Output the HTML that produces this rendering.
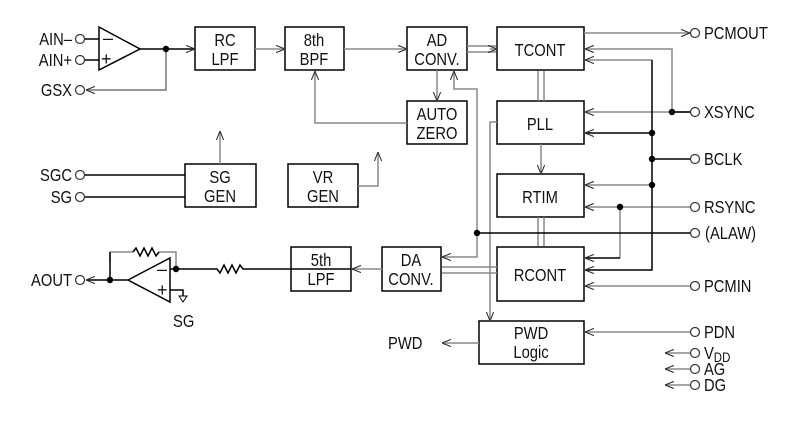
<!DOCTYPE html>
<html><head><meta charset="utf-8"><style>
html,body{margin:0;padding:0;background:#fff;width:807px;height:423px;overflow:hidden}
svg text{font-family:"Liberation Sans",sans-serif;font-size:18px;fill:#111}
</style></head><body>
<svg width="807" height="423" viewBox="0 0 807 423" xmlns="http://www.w3.org/2000/svg">
<defs>
<marker id="a" viewBox="0 0 10 10" refX="10" refY="5" markerWidth="9" markerHeight="9" orient="auto" markerUnits="userSpaceOnUse"><path d="M0,1 L10,5 L0,9" fill="none" stroke="#333" stroke-width="1.2"/></marker>
</defs>
<g fill="none" stroke="#000" stroke-width="1.5">
<rect x="195" y="27" width="60" height="43"/>
<rect x="285" y="27" width="59" height="43"/>
<rect x="407" y="27" width="60" height="43"/>
<rect x="497" y="27" width="87" height="43"/>
<rect x="407" y="101" width="60" height="43"/>
<rect x="497" y="101" width="87" height="43"/>
<rect x="497" y="174" width="87" height="43"/>
<rect x="497" y="247" width="87" height="54"/>
<rect x="479" y="321" width="105" height="43"/>
<rect x="382" y="247" width="59" height="44"/>
<rect x="291" y="247" width="60" height="44"/>
<rect x="185" y="164" width="71" height="43"/>
<rect x="288" y="164" width="70" height="43"/>
<path d="M99,27 L140,49 L99,70 Z"/>
<path d="M140,49 H195" marker-end="url(#a)"/>
<path d="M85,39 H99 M85,60 H99"/>
<path d="M166,49 V90 H86" marker-end="url(#a)" stroke="#777"/>
</g>
<g fill="none" stroke="#888" stroke-width="1.5">
<path d="M255,49 H285" marker-end="url(#a)"/>
<path d="M344,49 H407" marker-end="url(#a)"/>
<path d="M407,123 H315 V71" marker-end="url(#a)"/>
<path d="M437,70 V101" marker-end="url(#a)"/>
<path d="M477,233 V89 H454 V71" marker-end="url(#a)"/>
<path d="M477,233 V257 H442" marker-end="url(#a)"/>
<path d="M497,122 H490 V321" marker-end="url(#a)"/>
<path d="M541,144 V174" marker-end="url(#a)"/>
<path d="M220,164 V131" marker-end="url(#a)"/>
<path d="M358,186 H378 V152" marker-end="url(#a)"/>
<path d="M584,33 H690" marker-end="url(#a)"/>
<path d="M672,112 V49 H585" marker-end="url(#a)"/>
<path d="M691,112 H585" marker-end="url(#a)"/>
<path d="M652,60 H585" marker-end="url(#a)"/>
<path d="M652,185 H585" marker-end="url(#a)"/>
<path d="M691,207 H585" marker-end="url(#a)"/>
<path d="M620,207 V258"/>
<path d="M691,286 H585" marker-end="url(#a)"/>
<path d="M691,332 H585" marker-end="url(#a)"/>
<path d="M479,343 H442" marker-end="url(#a)"/>
<path d="M690,353 H665" marker-end="url(#a)"/>
<path d="M690,369 H665" marker-end="url(#a)"/>
<path d="M690,385 H665" marker-end="url(#a)"/>
<path d="M467,46 H496 M467,52 H496"/>
<path d="M490,49 L497,49" marker-end="url(#a)"/>
<path d="M538,101 V71 M544,101 V71"/>
<path d="M538,217 V246 M544,217 V246"/>
<path d="M497,267 H442 M497,273 H442"/>
<path d="M382,269 H352" marker-end="url(#a)"/>
<path d="M110,252 V262 M110,252 H133 M159,252 H176 V269"/>
</g>
<g fill="none" stroke="#000" stroke-width="1.5">
<path d="M652,60 V270 H585" marker-end="url(#a)"/>
<path d="M652,133 H585" marker-end="url(#a)"/>
<path d="M652,159 H690"/>
<path d="M620,258 H585" marker-end="url(#a)"/>
<path d="M477,233 H690"/>
<path d="M672,112 H690"/>
<path d="M185,175 H85 M185,197 H85"/>
<path d="M128,280 L170,258 L170,302 Z"/>
<path d="M351,269 H243 L240,265 L236,273 L232,265 L228,273 L224,265 L220,273 L217,269 H170"/>
<path d="M128,280 H110 V252"/>
<path d="M110,280 H86" marker-end="url(#a)"/>
<path d="M170,290 H183 V296"/>
<path d="M179,296 L183,302 L187,296 Z" stroke-width="1"/>
</g>
<path d="M133,252 L136,248 L140,256 L144,248 L148,256 L152,248 L156,256 L159,252" fill="none" stroke="#000" stroke-width="1.5"/>
<g fill="#000">
<circle cx="166" cy="49" r="3.2"/><circle cx="672" cy="112" r="3.2"/><circle cx="652" cy="133" r="3.2"/>
<circle cx="652" cy="159" r="3.2"/><circle cx="652" cy="185" r="3.2"/><circle cx="620" cy="207" r="3.2"/>
<circle cx="477" cy="233" r="3.2"/><circle cx="176" cy="269" r="3.2"/><circle cx="110" cy="280" r="3.2"/>
</g>
<g fill="#fff" stroke="#333" stroke-width="1.2">
<circle cx="80" cy="39" r="4.5"/><circle cx="80" cy="60" r="4.5"/><circle cx="80" cy="90" r="4.5"/>
<circle cx="80" cy="175" r="4.5"/><circle cx="80" cy="197" r="4.5"/><circle cx="80" cy="280" r="4.5"/>
<circle cx="695" cy="33" r="4.5"/><circle cx="695" cy="112" r="4.5"/><circle cx="695" cy="159" r="4.5"/>
<circle cx="695" cy="207" r="4.5"/><circle cx="695" cy="233" r="4.5"/><circle cx="695" cy="286" r="4.5"/>
<circle cx="695" cy="332" r="4.5"/><circle cx="695" cy="353" r="4.5"/><circle cx="695" cy="369" r="4.5"/><circle cx="695" cy="385" r="4.5"/>
</g>
<g transform="scale(0.82,1)">
<g text-anchor="middle">
<text x="274.4" y="46">RC</text><text x="274.4" y="65">LPF</text>
<text x="382.9" y="46">8th</text><text x="382.9" y="65">BPF</text>
<text x="532.9" y="46">AD</text><text x="532.9" y="65">CONV.</text>
<text x="658.5" y="56">TCONT</text>
<text x="532.9" y="120">AUTO</text><text x="532.9" y="139">ZERO</text>
<text x="658.5" y="130">PLL</text>
<text x="658.5" y="203">RTIM</text>
<text x="658.5" y="281">RCONT</text>
<text x="647.6" y="339">PWD</text><text x="647.6" y="358">Logic</text>
<text x="501.2" y="266">DA</text><text x="501.2" y="285">CONV.</text>
<text x="391.5" y="266">5th</text><text x="391.5" y="285">LPF</text>
<text x="268.3" y="183">SG</text><text x="268.3" y="202">GEN</text>
<text x="393.9" y="183">VR</text><text x="393.9" y="202">GEN</text>
</g>
<g text-anchor="end">
<text x="87.8" y="45">AIN–</text><text x="87.8" y="66">AIN+</text><text x="87.8" y="96">GSX</text>
<text x="87.8" y="181">SGC</text><text x="87.8" y="203">SG</text><text x="87.8" y="286">AOUT</text>
</g>
<text x="211" y="327">SG</text>
<text x="473.2" y="349">PWD</text>
<text x="858.5" y="39">PCMOUT</text><text x="858.5" y="118">XSYNC</text><text x="858.5" y="165">BCLK</text>
<text x="858.5" y="213">RSYNC</text><text x="859.8" y="239">(ALAW)</text><text x="858.5" y="292">PCMIN</text>
<text x="858.5" y="338">PDN</text>
<text x="858.5" y="359">V<tspan font-size="14" dy="3">DD</tspan></text>
<text x="858.5" y="375">AG</text><text x="858.5" y="391">DG</text>
</g>
<text x="103" y="44" font-size="15">–</text><text x="101" y="65" font-size="15">+</text>
<text x="157" y="275" font-size="15">–</text><text x="157" y="296" font-size="15">+</text>
</svg>
</body></html>
